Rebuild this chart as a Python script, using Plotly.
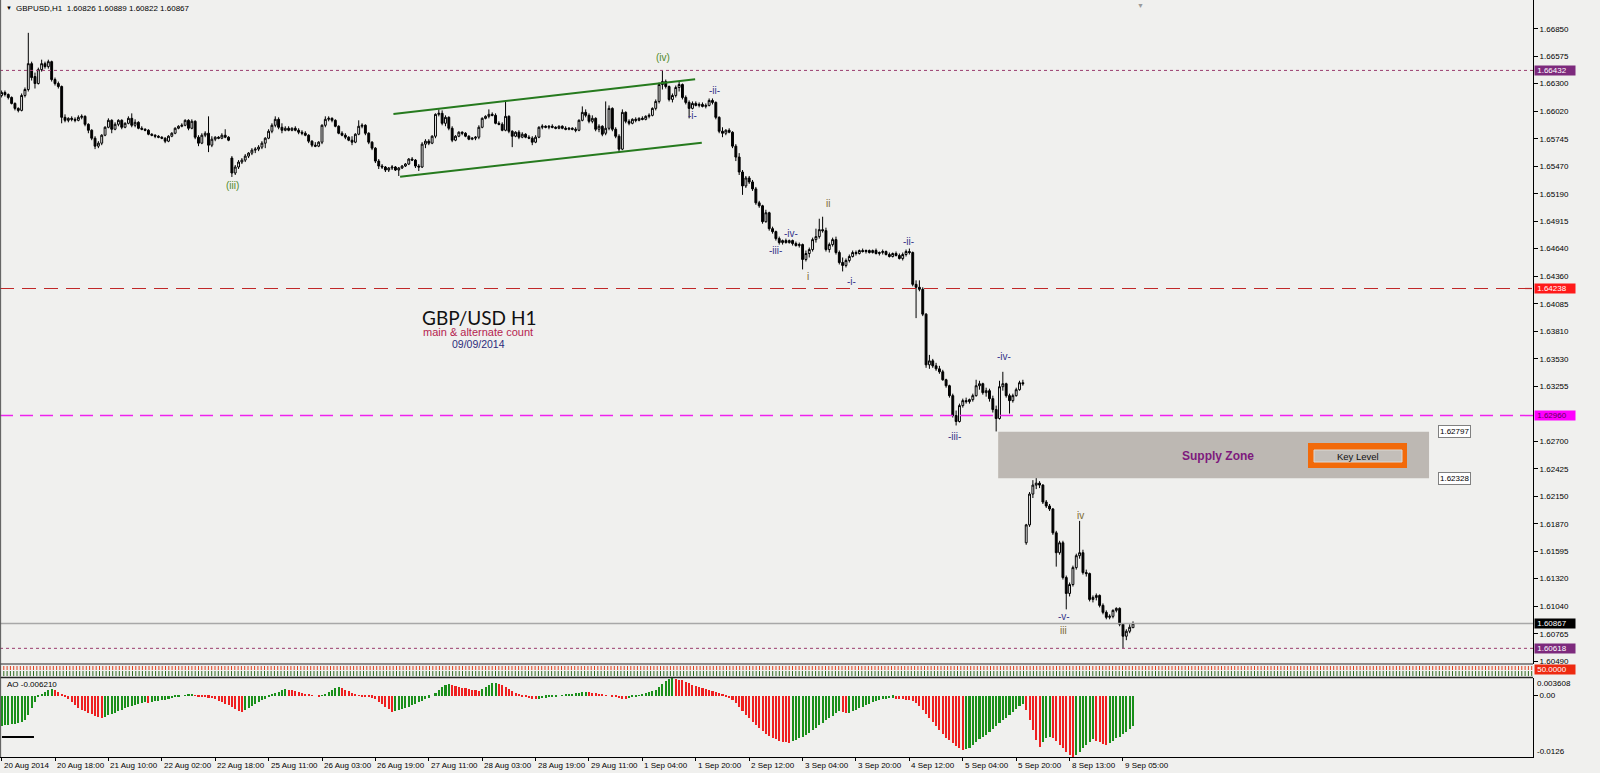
import plotly.graph_objects as go

# ---------------- data (price values given as pips above 1.6000) ----------------
opens = [
618,621,619,616,610,605,603,618,624,650, 637,630,644,650,647,652,634,630,627,596,
593,595,594,593,596,597,589,583,575,567, 570,578,586,593,584,589,593,586,590,595,
588,591,585,584,583,579,578,577,576,575, 572,577,580,585,587,588,593,585,592,576,
570,578,580,568,574,576,575,578,576,555, 540,546,551,553,557,560,563,564,566,570,
575,582,588,594,586,583,585,583,585,583, 581,580,578,572,568,567,571,588,594,595,
593,587,580,578,576,573,571,579,587,588, 580,571,565,552,547,546,543,545,546,543,
545,547,549,554,553,547,546,569,572,570, 577,599,600,590,596,585,573,577,581,580,
577,574,575,576,586,595,597,599,598,590, 589,583,597,582,577,581,576,579,576,575,
571,576,586,587,586,587,586,585,587,585, 584,585,584,583,593,601,598,592,595,584,
587,580,585,605,584,577,564,601,592,590, 594,593,595,594,597,598,605,612,629,632,
627,614,618,626,629,616,611,605,610,608, 609,607,608,613,611,596,582,580,583,581,
567,556,541,527,535,531,524,510,507,491, 500,484,481,474,470,472,470,472,469,467,
468,453,459,463,473,476,483,482,463,468, 473,460,450,447,452,456,460,459,462,461,
462,460,462,459,460,461,458,456,459,457, 454,458,461,460,428,425,423,398,347,351,
346,343,340,332,326,316,296,290,306,311, 310,312,316,326,328,319,321,313,302,293,
325,328,316,311,316,322,329,168,186,217, 226,228,226,209,205,202,178,158,168,133,
117,126,143,155,158,138,137,111,113,115, 105,98,93,94,100,102,86,74,79,82.6,
]
highs = [
623,623,620,617,611,606,620,626,681,652, 641,646,654,652,654,653,636,632,628,599,
596,597,596,598,599,598,590,584,577,572, 579,587,595,594,591,594,594,591,597,600,
594,592,587,585,584,580,579,578,577,576, 578,581,586,588,590,594,594,594,593,578,
580,582,597,577,577,577,580,584,577,557, 548,553,555,559,561,565,566,568,572,576,
584,590,597,596,590,587,587,586,587,585, 583,582,579,573,571,572,589,597,597,596,
594,588,582,580,577,577,580,593,590,589, 581,572,566,554,549,547,546,548,547,546,
548,550,555,556,554,549,571,574,574,578, 600,604,603,598,597,587,578,582,582,581,
578,576,577,588,596,598,604,601,600,592, 591,613,598,583,582,583,581,580,578,577,
578,587,589,588,588,589,587,588,588,587, 586,586,586,594,607,604,600,598,596,589,
588,612,608,606,586,579,604,602,594,595, 596,596,597,598,600,606,614,631,643,634,
628,620,628,632,630,618,613,612,612,611, 611,610,615,615,612,597,586,584,585,582,
569,560,543,537,537,533,526,512,508,503, 501,486,482,476,473,474,473,473,471,470,
469,462,465,475,484,494,496,485,470,475, 476,462,455,454,458,462,462,463,464,463,
463,463,464,461,463,462,460,460,461,459, 460,463,464,461,432,432,425,399,357,353,
349,346,342,333,327,318,301,308,313,314, 313,318,332,331,329,324,323,316,306,331,
340,329,318,318,324,331,332,187,219,231, 233,230,227,211,207,203,180,170,170,135,
128,145,157,190,161,141,138,115,117,116, 107,100,96,101,103,103,87,81,86,88.9,
]
lows = [
616,617,614,609,603,601,602,616,622,633, 625,629,642,645,645,632,628,625,590,591,
591,592,591,592,594,587,580,573,564,565, 568,577,585,580,583,587,584,585,589,586,
586,584,583,582,578,577,575,575,574,570, 571,576,579,584,586,587,583,584,574,567,
569,576,561,566,572,574,574,575,572,536, 538,544,549,551,555,558,560,562,564,565,
574,580,586,584,580,582,582,582,582,579, 578,577,570,566,566,566,569,586,592,591,
586,579,577,574,572,568,570,578,585,578, 569,563,550,544,544,541,541,543,542,537,
544,546,548,552,545,542,545,565,568,569, 575,597,588,587,583,571,572,576,578,576,
573,573,573,574,585,594,595,597,589,588, 582,582,580,566,576,574,575,575,574,568,
570,575,584,585,584,585,584,584,584,583, 583,583,581,582,592,596,590,590,582,581,
577,578,583,582,575,561,563,590,588,589, 591,592,593,593,595,597,603,610,624,625,
612,611,616,622,614,609,595,604,607,606, 606,605,607,609,594,580,576,578,580,565,
552,538,518,525,529,522,508,505,489,490, 482,479,472,468,468,469,469,467,466,465,
443,451,455,461,470,474,480,461,460,466, 458,448,441,445,450,455,457,458,460,459,
459,459,458,457,458,457,455,455,456,453, 452,456,458,426,394,421,396,344,343,344,
341,338,331,324,314,294,286,289,304,308, 308,310,315,322,317,315,310,299,280,292,
321,314,298,309,315,321,326,166,184,213, 222,223,207,203,200,176,144,156,131,101,
114,124,141,152,136,134,109,108,110,103, 96,91,91,92,98,84,61.8,70,77,82.2,
]
closes = [
621,619,616,610,605,603,618,624,650,636, 630,644,650,647,652,634,630,627,596,593,
595,594,593,596,597,589,583,575,567,570, 578,586,593,584,589,593,586,590,595,588,
591,585,584,583,579,578,577,576,575,572, 577,580,585,587,588,593,585,592,576,570,
578,580,568,574,576,575,578,576,573,540, 546,551,553,557,560,563,564,566,570,575,
582,588,594,586,583,585,583,585,583,581, 580,578,572,568,567,571,588,594,595,593,
587,580,578,576,573,571,579,587,588,580, 571,565,552,547,546,543,545,546,543,545,
547,549,554,553,547,546,569,572,570,577, 599,600,590,596,585,573,577,581,580,577,
574,575,576,586,595,597,599,598,590,589, 583,597,582,577,581,576,579,576,575,571,
576,586,587,586,587,586,585,587,585,584, 585,584,583,593,601,598,592,595,584,587,
579,585,605,584,577,564,601,592,590,594, 593,595,594,597,598,605,612,629,632,627,
614,618,626,629,616,611,605,610,608,609, 607,608,613,611,596,582,580,583,581,567,
556,541,527,535,531,524,510,507,491,500, 484,481,474,470,472,470,472,469,467,468,
453,459,463,473,476,483,482,463,468,473, 460,450,447,452,456,460,459,462,461,462,
460,462,459,460,461,458,456,459,457,454, 458,461,460,428,425,423,398,347,351,346,
343,340,332,326,316,296,290,306,311,310, 312,316,326,328,319,321,313,302,293,325,
328,316,311,316,322,329,328,186,217,226, 228,226,209,205,202,178,158,168,133,117,
126,143,155,158,138,137,111,113,115,105, 98,93,94,100,102,86,74,79,83,86.7,
]
# Awesome Oscillator, in units of 0.0001
ao_pips = [
-62,-61,-60,-59,-58,-57,-55,-50,-40,-25, -14,-3,3,7,11,13,11,8,3,-2,
-8,-14,-20,-25,-29,-32,-35,-38,-41,-43, -45,-43,-40,-38,-35,-32,-29,-26,-24,-22,
-20,-18,-16,-14,-15,-13,-12,-11,-10,-9, -7,-5,-3,-1,0,1,2,3,1,-1,
-2,-3,-4,-5,-8,-11,-14,-17,-20,-24, -28,-31,-33,-30,-26,-22,-18,-14,-10,-6,
-2,2,5,8,11,13,12,11,9,8, 6,4,3,1,0,-1,1,4,8,12,
15,17,15,12,9,6,3,1,-1,-2, -3,-4,-8,-13,-18,-23,-28,-34,-32,-30,
-28,-26,-23,-20,-17,-14,-11,-8,-4,0, 6,12,17,21,24,22,20,18,16,15,
13,12,11,10,14,18,22,25,26,24, 21,18,14,10,6,2,-1,-3,-5,-6,
-7,-6,-5,-4,-3,-2,-1,0,1,2, 3,4,5,6,7,8,7,6,5,3,
2,1,0,-2,-3,-5,-6,-7,-5,-3, -1,1,3,5,7,9,12,17,23,29,
34,36,35,33,31,28,25,22,19,17, 15,13,11,9,7,5,2,-1,-5,-10,
-16,-23,-31,-39,-47,-54,-61,-67,-73,-78, -83,-87,-90,-93,-95,-96,-97,-94,-91,-87,
-84,-80,-76,-71,-66,-61,-56,-51,-46,-41, -36,-32,-34,-36,-35,-32,-29,-26,-23,-20,
-17,-14,-12,-10,-8,-6,-5,-4,-6,-7, -8,-9,-10,-12,-16,-22,-29,-37,-46,-55,
-63,-71,-79,-86,-92,-98,-103,-107,-111,-110, -107,-102,-96,-90,-85,-80,-74,-68,-62,-56,
-50,-45,-39,-33,-27,-22,-18,-30,-50,-70, -92,-106,-95,-88,-84,-88,-94,-101,-108,-115,
-121,-126,-121,-115,-108,-102,-96,-90,-93,-96, -99,-101,-97,-93,-88,-84,-79,-74,-68,-62,
]
date_labels = ["20 Aug 2014", "20 Aug 18:00", "21 Aug 10:00", "22 Aug 02:00", "22 Aug 18:00",
               "25 Aug 11:00", "26 Aug 03:00", "26 Aug 19:00", "27 Aug 11:00", "28 Aug 03:00",
               "28 Aug 19:00", "29 Aug 11:00", "1 Sep 04:00", "1 Sep 20:00", "2 Sep 12:00",
               "3 Sep 04:00", "3 Sep 20:00", "4 Sep 12:00", "5 Sep 04:00", "5 Sep 20:00",
               "8 Sep 13:00", "9 Sep 05:00"]
bars_per_label = 16
price_ticks = [1.66850, 1.66575, 1.66300, 1.66020, 1.65745, 1.65470, 1.65190, 1.64915,
               1.64640, 1.64360, 1.64085, 1.63810, 1.63530, 1.63255, 1.62700, 1.62425,
               1.62150, 1.61870, 1.61595, 1.61320, 1.61040, 1.60765, 1.60490]
level_prices = [1.66432, 1.64238, 1.62960, 1.60867, 1.60618]
zone_prices = [1.62797, 1.62328]
zone_bars = [298.6, 427.7]
channel_upper = [(117.4, 1.659935), (207.8, 1.663426)]
channel_lower = [(119.4, 1.653627), (209.8, 1.657048)]
wave_labels = [
    ("(iii)", 69.3, 1.65279, "g"), ("(iv)", 198.2, 1.66557, "g"),
    ("-i-", 206.9, 1.65983, "b"), ("-ii-", 213.5, 1.66235, "b"),
    ("-iii-", 232.0, 1.64625, "b"), ("-iv-", 236.5, 1.64796, "b"),
    ("ii", 247.6, 1.65098, "o"), ("i", 241.6, 1.64354, "o"),
    ("-i-", 254.8, 1.64313, "b"), ("-ii-", 271.6, 1.64706, "b"),
    ("-iii-", 285.4, 1.62754, "b"), ("-iv-", 300.3, 1.63549, "b"),
    ("iv", 323.4, 1.61959, "o"), ("-v-", 318.3, 1.60943, "b"), ("iii", 318.3, 1.60802, "o"),
]
ao_last = -0.006210
ohlc_last = "1.60826 1.60889 1.60822 1.60867"

# ---------------- styling ----------------
BG = "#f0f0ee"
FONT = "Liberation Sans, Arial, sans-serif"
GREEN_AO, RED_AO = "#1a8f1a", "#ee2020"
WAVE_COL = {"g": "#4f8a2a", "b": "#34348a", "o": "#7a6a30"}
PLOT_W, PLOT_H = 1533.0, 757.0


def xp(px):
    return px / PLOT_W


def yp(py):
    return 1 - py / PLOT_H


base, pip = 1.6, 0.0001
n = len(closes)
xs = list(range(n))
O = [base + v * pip for v in opens]
H = [base + v * pip for v in highs]
L = [base + v * pip for v in lows]
C = [base + v * pip for v in closes]
ao = [v * pip for v in ao_pips]
ao_cols = [GREEN_AO if i == 0 or ao[i] > ao[i - 1] else RED_AO for i in range(n)]

fig = go.Figure()
fig.add_trace(go.Candlestick(
    x=xs, open=O, high=H, low=L, close=C, xaxis="x", yaxis="y",
    increasing=dict(line=dict(color="black", width=1), fillcolor="white"),
    decreasing=dict(line=dict(color="black", width=1), fillcolor="black"),
    whiskerwidth=0, hoverinfo="skip", showlegend=False))
fig.add_trace(go.Bar(
    x=xs, y=ao, xaxis="x2", yaxis="y2", width=0.62,
    marker=dict(color=ao_cols, line=dict(width=0)), hoverinfo="skip", showlegend=False))

xr = [-0.479, 458.85]
price_dom = [yp(664), 1]
ao_dom = [0, yp(678)]

shapes = []
# supply zone
shapes.append(dict(type="rect", xref="x", yref="y", x0=zone_bars[0], x1=zone_bars[1],
                   y0=zone_prices[1], y1=zone_prices[0], fillcolor="#bdb8b3",
                   line=dict(width=0), layer="below"))
# horizontal levels
level_style = [("#9a3d6e", "dot", 1), ("#c02828", "14px,8px", 1.2), ("#ee22ee", "13px,7px", 1.5),
               ("#a8a8a8", "solid", 1.5), ("#9a3d6e", "dot", 1)]
for p, (col, dash, w) in zip(level_prices, level_style):
    shapes.append(dict(type="line", xref="paper", yref="y", x0=0, x1=1, y0=p, y1=p,
                       line=dict(color=col, dash=dash, width=w), layer="above"))
# channel
for (a, b) in (channel_upper, channel_lower):
    shapes.append(dict(type="line", xref="x", yref="y", x0=a[0], y0=a[1], x1=b[0], y1=b[1],
                       line=dict(color="#267a1e", width=2)))
# key level button
shapes.append(dict(type="rect", xref="paper", yref="paper", x0=xp(1308), x1=xp(1407),
                   y0=yp(468), y1=yp(443), fillcolor="#f26a0a", line=dict(width=0)))
shapes.append(dict(type="rect", xref="paper", yref="paper", x0=xp(1314), x1=xp(1402),
                   y0=yp(462), y1=yp(450), fillcolor="#c3beb9", line=dict(color="#dcd8d4", width=1)))
# panel separators and strip indicator
shapes.append(dict(type="line", xref="paper", yref="paper", x0=0, x1=1, y0=yp(664), y1=yp(664),
                   line=dict(color="#8a8a8a", width=2)))
shapes.append(dict(type="line", xref="paper", yref="paper", x0=0, x1=1, y0=yp(668), y1=yp(668),
                   line=dict(color="#e2401e", width=4, dash="1px,2.3px")))
shapes.append(dict(type="line", xref="paper", yref="paper", x0=0, x1=1, y0=yp(673.5), y1=yp(673.5),
                   line=dict(color="#2e6a1e", width=5, dash="1px,2.3px")))
shapes.append(dict(type="line", xref="paper", yref="paper", x0=0, x1=1, y0=yp(677.5), y1=yp(677.5),
                   line=dict(color="#222222", width=1.5)))
shapes.append(dict(type="line", xref="paper", yref="paper", x0=0.0004, x1=0.0004, y0=0, y1=1,
                   line=dict(color="#555555", width=1)))
# short black line in AO window
shapes.append(dict(type="line", xref="x2", yref="y2", x0=0.1, x1=9.7, y0=-0.0085, y1=-0.0085,
                   line=dict(color="black", width=2)))

ann = []
small = dict(family=FONT, size=8, color="black")
# header
ann.append(dict(xref="paper", yref="paper", x=xp(4), y=yp(8), xanchor="left", yanchor="middle",
                text="▼", showarrow=False, font=dict(family=FONT, size=6, color="black")))
ann.append(dict(xref="paper", yref="paper", x=xp(14), y=yp(8), xanchor="left", yanchor="middle",
                text="GBPUSD,H1  " + ohlc_last, showarrow=False,
                font=dict(family=FONT, size=8, color="black")))
ann.append(dict(xref="paper", yref="paper", x=xp(1140), y=1, xanchor="center", yanchor="top",
                text="▼", showarrow=False, font=dict(family=FONT, size=7, color="#9a9a9a")))
# chart texts
ctr = dict(xref="paper", yref="paper", xanchor="center", yanchor="middle", showarrow=False)
ann.append(dict(ctr, x=xp(479), y=yp(317), text="GBP/USD H1",
                font=dict(family="Lato, Liberation Sans, sans-serif", size=19, color="#111111")))
ann.append(dict(ctr, x=xp(478), y=yp(332), text="main &amp; alternate count",
                font=dict(family=FONT, size=11, color="#b5244e")))
ann.append(dict(ctr, x=xp(478), y=yp(344), text="09/09/2014",
                font=dict(family=FONT, size=10.5, color="#2c2c7c")))
ann.append(dict(ctr, x=xp(1218), y=yp(456), text="<b>Supply Zone</b>",
                font=dict(family=FONT, size=12, color="#7d1a7d")))
ann.append(dict(ctr, x=xp(1358), y=yp(456), text="Key Level",
                font=dict(family=FONT, size=9.5, color="#111111")))
for p in zone_prices:
    ann.append(dict(xref="x", yref="y", x=zone_bars[1] + 2.8, y=p, xanchor="left", yanchor="middle",
                    text="%.5f" % p, showarrow=False, font=small, bgcolor="white",
                    bordercolor="#808080", borderwidth=1, borderpad=1))
for t, b, p, k in wave_labels:
    ann.append(dict(xref="x", yref="y", x=b, y=p, text=t, showarrow=False,
                    xanchor="center", yanchor="middle",
                    font=dict(family=FONT, size=10, color=WAVE_COL[k])))
# right-axis price boxes
box_style = [("#7d2a7d", "white"), ("#ff1a1a", "white"), ("#ff00ff", "#5a005a"),
             ("#000000", "white"), ("#7d2a7d", "white")]
for p, (bg, fc) in zip(level_prices, box_style):
    ann.append(dict(xref="paper", yref="y", x=1, y=p, xanchor="left", yanchor="middle", xshift=1,
                    text=" %.5f    " % p, showarrow=False, font=dict(family=FONT, size=8, color=fc),
                    bgcolor=bg, borderpad=0))
ann.append(dict(xref="paper", yref="paper", x=1, y=yp(669.5), xanchor="left", yanchor="middle", xshift=1,
                text=" 50.0000    ", showarrow=False, font=dict(family=FONT, size=8, color="white"),
                bgcolor="#ee2a10", borderpad=0))
# AO labels
ann.append(dict(xref="paper", yref="paper", x=xp(5), y=yp(684), xanchor="left", yanchor="middle",
                text="AO %.6f" % ao_last, showarrow=False, font=small))
ann.append(dict(xref="paper", yref="paper", x=1, y=yp(683.5), xanchor="left", yanchor="middle", xshift=2,
                text="0.003608", showarrow=False, font=small))
ann.append(dict(xref="paper", yref="paper", x=1, y=yp(751), xanchor="left", yanchor="middle", xshift=2,
                text="-0.0126", showarrow=False, font=small))
# date labels
tick_bars = [i * bars_per_label for i in range(len(date_labels))]
for b, t in zip(tick_bars, date_labels):
    ann.append(dict(xref="x2", yref="paper", x=b, y=0, xanchor="left", yanchor="middle", yshift=-8,
                    text=t, showarrow=False, font=small))

fig.update_layout(
    width=1600, height=773, margin=dict(l=0, r=67, t=0, b=16),
    paper_bgcolor=BG, plot_bgcolor=BG, showlegend=False, bargap=0, boxgap=0.2,
    font=dict(family=FONT, size=8, color="black"),
    xaxis=dict(domain=[0, 1], range=xr, anchor="y", showgrid=False, zeroline=False,
               showticklabels=False, rangeslider=dict(visible=False), fixedrange=True),
    yaxis=dict(domain=price_dom, range=[1.604604, 1.671404], side="right", anchor="x",
               showgrid=False, zeroline=False, tickvals=price_ticks,
               ticktext=["%.5f" % v for v in price_ticks], ticks="outside", ticklen=4,
               tickcolor="black", tickfont=small, showline=True, linecolor="black", linewidth=1),
    xaxis2=dict(domain=[0, 1], range=xr, anchor="y2", showgrid=False, zeroline=False,
                showticklabels=False, tickvals=tick_bars, ticks="outside", ticklen=3,
                tickcolor="black", showline=True, linecolor="black", linewidth=1),
    yaxis2=dict(domain=ao_dom, range=[-0.0126, 0.003608], side="right", anchor="x2",
                showgrid=False, zeroline=False, tickvals=[0], ticktext=["0.00"], ticks="outside",
                ticklen=4, tickcolor="black", tickfont=small, showline=True, linecolor="black",
                linewidth=1),
    shapes=shapes, annotations=ann,
)

fig.write_html("out.html", config=dict(displayModeBar=False),
               post_script="document.body.style.margin='0px';document.body.style.overflow='hidden';")
